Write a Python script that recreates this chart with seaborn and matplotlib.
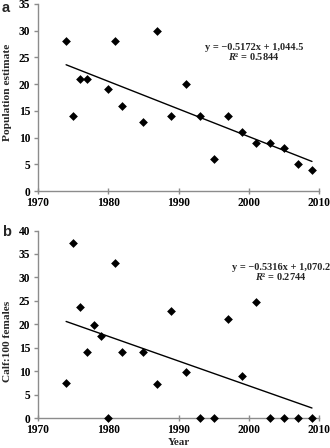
import matplotlib
matplotlib.use("Agg")
import matplotlib.pyplot as plt
import seaborn as sns
import pandas as pd

years_a = [1974, 1975, 1976, 1977, 1980, 1981, 1982, 1985, 1987, 1989,
           1991, 1993, 1995, 1997, 1999, 2001, 2003, 2005, 2007, 2009]
pop_a = [28, 14, 21, 21, 19, 28, 16, 13, 30, 14,
         20, 14, 6, 14, 11, 9, 9, 8, 5, 4]

years_b = [1974, 1975, 1976, 1977, 1978, 1979, 1980, 1981, 1982, 1985, 1987,
           1989, 1991, 1993, 1995, 1997, 1999, 2001, 2003, 2005, 2007, 2009]
calf_b = [7.5, 37.4, 23.7, 14.1, 19.9, 17.6, 0, 33.1, 14.1, 14.1, 7.3,
          22.8, 9.8, 0, 0, 21.2, 9.0, 24.8, 0, 0, 0, 0]

eq_a = ["y = \u22120.5172x + 1,044.5", "$R$\u00b2 = 0.5844"]
eq_b = ["y = \u22120.5316x + 1,070.2", "$R$\u00b2 = 0.2744"]

sns.set_theme(style="ticks")
plt.rcParams['font.family'] = ['Liberation Serif', 'DejaVu Serif']
plt.rcParams['mathtext.fontset'] = 'custom'
plt.rcParams['mathtext.it'] = 'Liberation Serif:italic:bold'
plt.rcParams['mathtext.rm'] = 'Liberation Serif:bold'

fig = plt.figure(figsize=(3.3, 4.48), dpi=100)
W, H = 330, 448
ax1 = fig.add_axes([38 / W, 1 - 191 / H, 281 / W, 187 / H])
ax2 = fig.add_axes([38 / W, 1 - 418 / H, 281 / W, 187.5 / H])

dfa = pd.DataFrame({"Year": years_a, "val": pop_a})
dfb = pd.DataFrame({"Year": years_b, "val": calf_b})

for ax, df, ylim, yticks, ylabel, eq, eqx, eqy, letter, lab_y in [
        (ax1, dfa, 35, range(0, 36, 5), "Population estimate", eq_a, 254, 47, "a", 0.53),
        (ax2, dfb, 40, range(0, 41, 5), "Calf:100 females", eq_b, 281, 267, "b", 0.41)]:
    sns.regplot(data=df, x="Year", y="val", ax=ax, ci=None, marker="D",
                scatter_kws=dict(s=20, color="black", alpha=1, linewidths=0, clip_on=False, zorder=3),
                line_kws=dict(color="black", lw=1.0))
    ax.set_xlim(1970, 2010)
    ax.set_ylim(0, ylim)
    ax.set_xticks(range(1970, 2011, 10))
    ax.set_yticks(list(yticks))
    for s in ["top", "right"]:
        ax.spines[s].set_visible(False)
    for s in ["left", "bottom"]:
        ax.spines[s].set_color("#8c8c8c")
        ax.spines[s].set_linewidth(1.0)
    ax.tick_params(axis="both", colors="#8c8c8c", labelcolor="black", length=3, width=1,
                   labelsize=8.3, pad=2.5)
    ax.tick_params(axis="x", direction="inout", length=4)
    for lab in ax.get_xticklabels() + ax.get_yticklabels():
        lab.set_fontweight("bold")
    ax.set_ylabel(ylabel, fontsize=8.2, fontweight="bold")
    ax.yaxis.set_label_coords(-26 / 281, lab_y)
    ax.set_xlabel("")
    ax.set_facecolor("white")
    fig.text(eqx / W, 1 - eqy / H, eq[0], ha="center", va="center", fontsize=7.5, fontweight="bold")
    fig.text(eqx / W, 1 - (eqy + 10) / H, eq[1], ha="center", va="center", fontsize=7.5, fontweight="bold")
    ytop = 8 if letter == "a" else 232
    fig.text(2 / W, 1 - ytop / H, letter, ha="left", va="center", fontsize=10.5,
             fontweight="bold", fontfamily=["Liberation Sans", "DejaVu Sans"])

ax2.set_xlabel("Year", fontsize=8, fontweight="bold", labelpad=1)

fig.savefig("out.png", dpi=100, facecolor="white")
